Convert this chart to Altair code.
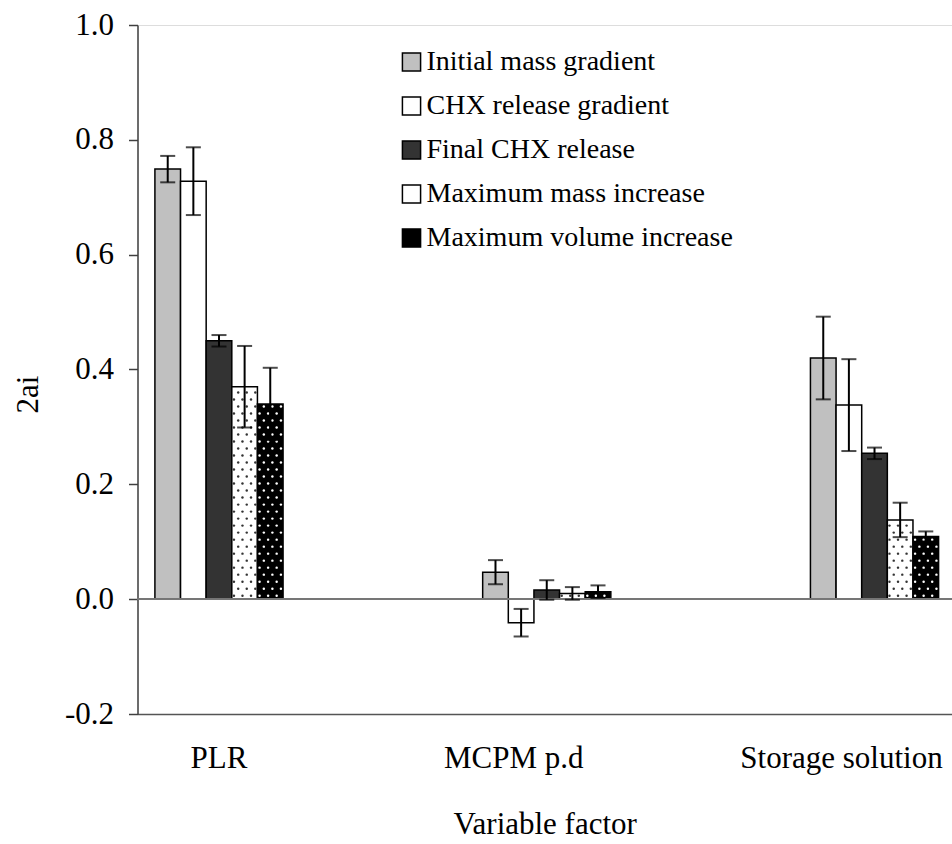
import altair as alt
import pandas as pd

categories = ["PLR", "MCPM p.d", "Storage solution"]
series = ["Initial mass gradient", "CHX release gradient", "Final CHX release",
          "Maximum mass increase", "Maximum volume increase"]
# values[series][category]
values = {
    "Initial mass gradient":   [0.749, 0.047, 0.420],
    "CHX release gradient":    [0.728, -0.041, 0.338],
    "Final CHX release":       [0.450, 0.016, 0.254],
    "Maximum mass increase":   [0.370, 0.010, 0.138],
    "Maximum volume increase": [0.340, 0.013, 0.109],
}
errors = {
    "Initial mass gradient":   [0.023, 0.021, 0.072],
    "CHX release gradient":    [0.059, 0.024, 0.080],
    "Final CHX release":       [0.010, 0.017, 0.010],
    "Maximum mass increase":   [0.071, 0.011, 0.030],
    "Maximum volume increase": [0.063, 0.011, 0.009],
}
fills = ["#c0c0c0", "#ffffff", "#333333", "#ffffff", "#000000"]

rows = []
for s in series:
    for i, c in enumerate(categories):
        v = values[s][i]
        e = errors[s][i]
        rows.append({"cat": c, "series": s, "value": v, "lo": v - e, "hi": v + e})
df = pd.DataFrame(rows)

# dot texture for the two patterned series (derived from the bar values)
SUB = 6                      # sub-columns per series
NSUB = SUB * len(series)
DY = 0.0122                  # row spacing of the texture, in data units
dot_rows = []
for si, s in enumerate(series):
    if s not in ("Maximum mass increase", "Maximum volume increase"):
        continue
    colr = "#333333" if s == "Maximum mass increase" else "#ffffff"
    for i, c in enumerate(categories):
        v = values[s][i]
        k = 0
        while (k + 0.55) * DY < abs(v) - 0.002 or k == 0:
            yv = (k + 0.5) * DY
            if yv > abs(v):
                yv = abs(v) / 2
            for j in range(SUB):
                if (j + k) % 2 == 0:
                    dot_rows.append({"cat": c, "sub": si * SUB + j,
                                     "yv": yv if v >= 0 else -yv, "dc": colr})
            k += 1
dots_df = pd.DataFrame(dot_rows)

FONT = "Liberation Serif"

xscale = alt.Scale(domain=categories, paddingInner=0.609, paddingOuter=0.047, align=0.565)
yscale = alt.Scale(domain=[-0.2, 1.0], nice=False, zero=False)
offscale = alt.Scale(domain=series)

base = alt.Chart(df)

label_shift = alt.condition("datum.value == 'PLR'", alt.value(0), alt.value(-33))

bars = base.mark_bar(stroke="black", strokeWidth=1.5, cornerRadius=0).encode(
    x=alt.X("cat:N", scale=xscale, sort=categories,
            axis=alt.Axis(title="Variable factor", labelAngle=0, ticks=False,
                          domain=True, domainColor="#555555", domainWidth=1.5,
                          labelFont=FONT, labelFontSize=31, labelColor="black",
                          labelPadding=29, labelLimit=500, labelOffset=label_shift,
                          titleFont=FONT, titleFontSize=31,
                          titleFontWeight="normal", titleColor="black", titlePadding=36)),
    xOffset=alt.XOffset("series:N", scale=offscale, sort=series),
    y=alt.Y("value:Q", scale=yscale,
            axis=alt.Axis(title="2ai", values=[-0.2, 0, 0.2, 0.4, 0.6, 0.8, 1.0],
                          labelExpr="datum.value < 0 ? '-' + format(-datum.value, '.1f') : format(datum.value, '.1f')",
                          grid=False, domainColor="#404040", domainWidth=1.5,
                          tickColor="#404040", tickSize=9, tickWidth=1.5,
                          labelFont=FONT, labelFontSize=31, labelColor="black", labelPadding=15,
                          titleFont=FONT, titleFontSize=31, titleFontWeight="normal",
                          titleColor="black", titleX=-100, titleY=369, titleAlign="center",
                          titleBaseline="alphabetic")),
    y2=alt.datum(0),
    fill=alt.Fill("series:N", sort=series,
                  scale=alt.Scale(domain=series, range=fills),
                  legend=alt.Legend(title=None, orient="none", legendX=260, legendY=23,
                                    symbolType="square", symbolSize=330,
                                    symbolStrokeColor="black", symbolStrokeWidth=1.5,
                                    labelFont=FONT, labelFontSize=28, labelColor="black",
                                    labelOffset=1, rowPadding=16, labelLimit=600,
                                    padding=0)),
)

dots = alt.Chart(dots_df).mark_point(filled=True, shape="circle", size=6, opacity=1).encode(
    x=alt.X("cat:N", scale=xscale, sort=categories),
    xOffset=alt.XOffset("sub:O", scale=alt.Scale(domain=list(range(NSUB)))),
    y=alt.Y("yv:Q", scale=yscale),
    fill=alt.Fill("dc:N", scale=None),
)

zero = base.mark_rule(color="#777777", strokeWidth=1.5).encode(y=alt.datum(0))

err = base.mark_rule(color="black", strokeWidth=2).encode(
    x=alt.X("cat:N", scale=xscale, sort=categories),
    xOffset=alt.XOffset("series:N", scale=offscale, sort=series),
    y="lo:Q", y2="hi:Q",
)
cap_lo = base.mark_tick(color="black", thickness=2, size=15).encode(
    x=alt.X("cat:N", scale=xscale, sort=categories),
    xOffset=alt.XOffset("series:N", scale=offscale, sort=series),
    y="lo:Q",
)
cap_hi = base.mark_tick(color="black", thickness=2, size=15).encode(
    x=alt.X("cat:N", scale=xscale, sort=categories),
    xOffset=alt.XOffset("series:N", scale=offscale, sort=series),
    y="hi:Q",
)

chart = alt.layer(bars, dots, zero, err, cap_lo, cap_hi).resolve_scale(
    xOffset="independent"
).properties(
    width=814.5, height=689,
    autosize=alt.AutoSizeParams(type="none"),
    padding={"left": 137.5, "top": 25, "right": 0, "bottom": 130},
).configure_view(stroke=None).configure(font=FONT, background="white")

chart.save("out.html", embed_options={"renderer": "svg", "actions": False})
